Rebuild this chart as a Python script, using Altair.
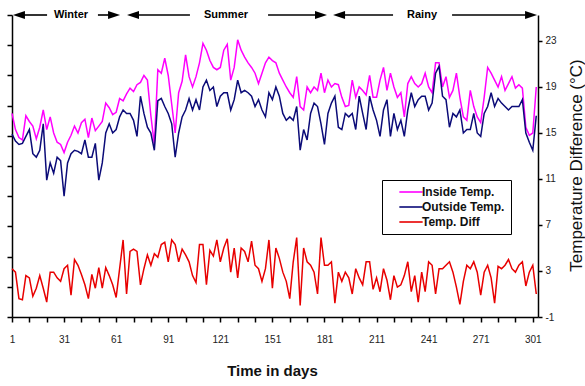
import altair as alt
import pandas as pd

days = list(range(1, 304, 2))

inside_temp = [
    16.7, 15.3, 14.6, 14.4, 16.5, 16.0, 15.6, 14.5, 15.5, 17.0, 15.3, 16.4, 15.0, 14.2, 14.0,
    13.3, 14.2, 14.8, 15.6, 15.0, 15.9, 16.2, 14.6, 16.3, 15.2, 15.6, 16.0, 17.6, 17.2, 16.6,
    16.8, 18.0, 17.8, 18.4, 18.9, 18.6, 19.2, 19.4, 20.0, 19.6, 16.5, 14.0, 20.5, 20.2, 21.5,
    20.0, 17.5, 15.0, 18.5, 19.5, 21.8,
    19.9, 19.0, 19.9, 21.1, 22.8, 22.2, 21.3, 20.7, 20.5, 20.7,
    22.2, 22.7, 19.6, 20.7, 23.1, 22.2, 21.6, 21.1, 20.7, 20.2,
    19.3, 20.2, 21.1, 21.6, 21.3, 21.1, 20.2, 19.6, 19.0, 18.5,
    18.1, 19.9, 17.3, 17.0, 19.0, 18.5, 19.0, 18.7, 20.2, 18.5,
    19.6, 19.0, 19.3, 19.2, 18.1, 17.3, 17.4, 19.6, 18.1, 19.0, 18.7,
    18.3, 20.0, 18.1, 18.1, 19.6, 20.7, 18.7, 20.2, 19.0, 18.1,
    18.5, 16.4, 19.3, 19.9, 19.3, 19.0, 19.3, 20.2, 19.0, 18.5,
    21.1, 21.1, 19.0, 19.9, 18.1, 18.7, 20.2, 18.1, 16.4, 16.1,
    18.7, 17.3, 16.4, 15.9, 18.1, 20.7, 20.2, 19.6, 19.0, 19.9,
    18.7, 19.3, 19.9, 18.9, 19.2, 18.9, 15.5, 14.8, 15.0, 19.0,
]

outside_temp = [
    14.9, 14.3, 14.0, 14.1, 14.7, 15.3, 13.2, 12.9, 13.5, 15.8, 10.9, 12.4, 11.5, 12.9, 12.6,
    9.5, 12.4, 13.2, 13.5, 13.4, 13.2, 14.4, 12.9, 12.9, 14.1, 10.9, 12.4, 15.0, 15.8, 15.0,
    15.3, 16.4, 17.0, 16.7, 16.7, 16.1, 14.7, 18.2, 16.7, 15.5, 15.0, 13.5, 17.8, 18.0, 17.3,
    16.7, 15.8, 12.9, 15.0, 16.4, 17.0,
    18.0, 17.0, 17.9, 17.0, 19.0, 19.6, 18.7, 19.0, 17.3, 18.2,
    18.5, 18.5, 17.0, 17.9, 19.6, 18.5, 18.7, 18.5, 18.2, 17.3,
    17.9, 17.0, 16.4, 18.5, 17.9, 19.0, 18.2, 16.7, 16.1, 16.4,
    16.1, 17.3, 13.5, 15.3, 14.4, 16.7, 17.6, 17.3, 15.8, 14.0,
    16.7, 17.6, 18.2, 15.5, 15.3, 16.7, 16.4, 16.7, 15.3, 18.2, 16.7,
    15.3, 18.2, 17.0, 16.1, 14.7, 17.0, 17.9, 14.7, 16.7, 15.3,
    16.1, 14.7, 17.0, 18.5, 17.3, 17.9, 18.2, 18.2, 17.0, 17.6,
    20.2, 20.8, 18.2, 17.9, 15.5, 16.7, 16.4, 17.0, 15.0, 15.3,
    15.3, 16.7, 15.0, 14.7, 16.7, 17.3, 18.5, 17.3, 18.0, 17.6,
    17.3, 17.0, 17.3, 17.3, 17.3, 17.9, 15.0, 14.2, 13.5, 16.5,
]

temp_diff = [
    3.2, 2.9, 0.6, 0.5, 2.6, 2.4, 0.8, 1.5, 2.6, 1.5, 0.3, 2.9, 2.9, 2.4, 2.1,
    3.2, 3.5, 0.9, 4.0, 3.5, 2.7, 1.8, 0.6, 2.7, 1.5, 3.3, 1.5, 3.3, 2.6, 1.8,
    0.7, 3.2, 5.7, 1.0, 4.7, 4.9, 4.7, 1.8, 3.2, 4.4, 3.5, 4.5, 4.2, 5.3, 5.5,
    3.8, 5.7, 5.3, 3.8, 4.9, 4.4,
    3.8, 2.6, 2.0, 5.3, 5.3, 1.8, 4.8, 4.3, 5.7, 3.8,
    5.0, 5.8, 2.9, 5.0, 2.4, 5.0, 4.7, 3.8, 5.6, 3.5,
    3.2, 2.1, 3.2, 5.7, 1.5, 5.0, 4.1, 2.9, 2.1, 0.6,
    3.8, 5.9, 0.0, 5.0, 3.8, 3.5, 2.9, 1.0, 5.9, 3.5,
    3.5, 3.8, 0.2, 2.9, 2.1, 2.9, 2.4, 1.0, 3.2, 2.4, 1.8,
    3.8, 3.8, 1.4, 2.4, 1.2, 3.2, 2.2, 0.5, 2.6, 1.6,
    1.8, 2.6, 3.8, 1.2, 2.6, 0.3, 2.9, 1.2, 3.8, 3.5,
    1.0, 3.2, 3.2, 3.5, 3.8, 2.9, 1.6, 0.1, 2.1, 3.5,
    3.2, 3.8, 2.9, 0.9, 2.9, 3.5, 2.4, 0.2, 3.4, 3.2,
    3.5, 4.0, 3.2, 2.9, 3.5, 3.8, 1.7, 2.9, 3.5, 1.0,
]

assert len(inside_temp) == len(days)
assert len(outside_temp) == len(days)
assert len(temp_diff) == len(days)

series_names = ["Inside Temp.", "Outside Temp.", "Temp. Diff"]
series_colors = ["#ff00ff", "#0b0b78", "#e80000"]

x_tick_values = list(range(1, 302, 10))
right_tick_values = [-1, 3, 7, 11, 15, 19, 23]

season_names = ["Winter", "Summer", "Rainy"]
season_label_day = [35, 124.3, 237.2]
season_seg_start = [5, 50.5, 70.7, 148.5, 189.4, 254.5]
season_seg_end = [21.2, 59.8, 103.5, 179, 220.5, 300]
season_head_left = [5, 70.7, 189.4]
season_head_right = [59.8, 179, 300]

rows = []
for name, vals in zip(series_names, [inside_temp, outside_temp, temp_diff]):
    for d, v in zip(days, vals):
        rows.append({"day": d, "value": v, "series": name})
df = pd.DataFrame(rows)
temps_df = df[df["series"] != "Temp. Diff"]
diff_df = df[df["series"] == "Temp. Diff"]

x_scale = alt.Scale(domain=[1, 304], nice=False, zero=False)
y_scale = alt.Scale(domain=[-1, 25.26], nice=False, zero=False)

x_axis = alt.Axis(
    values=x_tick_values,
    labelExpr="(datum.value - 1) % 30 == 0 ? datum.label : ''",
    tickSize=5, labelPadding=12, labelFontSize=10, labelFlush=False, labelOverlap=False,
    title="Time in days", titleFontSize=15, titleFontWeight="bold",
    titleX=260, titleY=53, titleBaseline="middle", titleAlign="center",
)
left_axis = alt.Axis(
    orient="left", values=[-1 + i * 2.626 for i in range(11)], labels=False,
    tickSize=5, title=None,
)
right_axis = alt.Axis(
    orient="right", values=right_tick_values, labelExpr="'' + datum.value",
    tickSize=4, labelPadding=3, labelFontSize=10,
    title="Temperature Difference (°C)", titleAngle=270, titleFontSize=17,
    titleFontWeight="normal", titleX=38, titleY=150, titleAlign="center",
    titleBaseline="middle",
)

legend = alt.Legend(
    orient="none", legendX=370, legendY=165, title=None,
    strokeColor="black", fillColor="white", padding=6,
    symbolType="M-4,0H4", symbolSize=34, symbolStrokeWidth=1.6,
    symbolOffset=17, labelOffset=5, labelFontSize=12,
    labelFont="Liberation Sans", labelFontWeight="bold", labelColor="#111",
    rowPadding=3, labelExpr="datum.label + '       '",
)
color = alt.Color(
    "series:N",
    scale=alt.Scale(domain=series_names, range=series_colors),
    legend=legend,
)

temps = alt.Chart(temps_df).mark_line(strokeWidth=1.5).encode(
    x=alt.X("day:Q", scale=x_scale, axis=x_axis),
    y=alt.Y("value:Q", scale=y_scale, axis=left_axis),
    color=color,
)
diffs = alt.Chart(diff_df).mark_line(strokeWidth=1.5).encode(
    x=alt.X("day:Q", scale=x_scale, axis=x_axis),
    y=alt.Y("value:Q", scale=y_scale, axis=right_axis),
    color=color,
)

seg_df = pd.DataFrame({"start": season_seg_start, "end": season_seg_end})
rules = alt.Chart(seg_df).mark_rule(color="black", strokeWidth=1.6).encode(
    x=alt.X("start:Q", scale=x_scale, axis=x_axis),
    x2="end:Q",
    y=alt.value(0),
)
heads_l = alt.Chart(pd.DataFrame({"day": season_head_left})).mark_point(
    shape="M-1,0L1,-0.65L1,0.65Z", filled=True, size=144, color="black", opacity=1
).encode(x=alt.X("day:Q", scale=x_scale, axis=x_axis), y=alt.value(0))
heads_r = alt.Chart(pd.DataFrame({"day": season_head_right})).mark_point(
    shape="M1,0L-1,-0.65L-1,0.65Z", filled=True, size=144, color="black", opacity=1
).encode(x=alt.X("day:Q", scale=x_scale, axis=x_axis), y=alt.value(0))
labels = alt.Chart(
    pd.DataFrame({"day": season_label_day, "name": season_names})
).mark_text(
    fontWeight="bold", fontSize=11, font="Liberation Sans", baseline="middle", color="black"
).encode(x=alt.X("day:Q", scale=x_scale, axis=x_axis), y=alt.value(0), text="name:N")

chart = (
    alt.layer(temps, diffs, rules, heads_l, heads_r, labels)
    .resolve_axis(y="independent")
    .properties(
        width=526, height=302,
        autosize=alt.AutoSizeParams(type="none"),
        padding={"left": 12, "top": 15, "right": 47, "bottom": 69},
        background="white",
    )
    .configure_view(stroke=None)
    .configure_axis(
        domainColor="black", tickColor="black", domainWidth=1.5, tickWidth=1.5,
        labelFont="Liberation Sans", titleFont="Liberation Sans",
        labelColor="#222", titleColor="#111", grid=False,
    )
)

chart.save("out.html", embed_options={"renderer": "svg", "actions": False})
